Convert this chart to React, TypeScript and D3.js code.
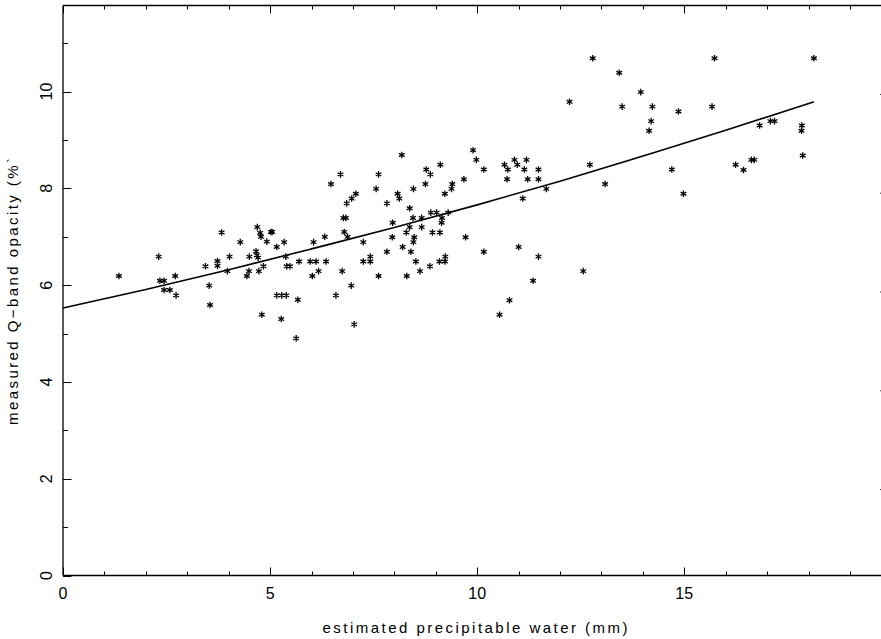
import React from "react";
import * as d3 from "d3";

// measured points: estimated precipitable water (mm) vs measured Q-band opacity (%)
const pwv: number[] = [
  1.35, 2.31, 2.34, 2.44, 2.71, 2.44, 2.58, 2.73, 3.44, 3.53, 3.55, 3.73, 3.73, 3.83, 4.02, 3.97,
  4.28, 4.44, 4.49, 4.5, 4.69, 4.76, 4.78, 4.66, 4.68, 4.71, 5.02, 5.05, 4.92, 5.16, 5.34, 4.73,
  4.84, 4.8, 5.27, 5.38, 5.4, 5.48, 5.16, 5.28, 5.39, 5.67, 5.63, 5.7,
  6.05, 6.32, 5.97, 6.11, 6.35, 6.02, 6.17, 6.47, 6.7, 6.74, 6.59, 6.96, 7.03, 6.85, 6.97, 7.07,
  6.77, 6.83, 6.79, 6.87, 7.25, 7.25, 7.42, 7.42, 7.62, 7.62, 7.56, 7.82, 8.08, 8.12, 8.18, 7.96,
  7.95, 7.82, 8.2, 8.3, 8.4, 8.46, 8.37, 8.45, 8.29, 8.37, 8.48, 8.46, 8.52, 8.62, 8.66, 8.66,
  8.75, 8.77, 8.87, 8.88, 9.02, 8.92, 9.1, 8.86, 9.09, 9.22, 9.23, 9.15, 9.14, 9.11, 9.22, 9.3,
  9.4, 9.38, 9.68, 9.72, 9.9, 9.98,
  10.16, 10.16, 10.66, 10.74, 10.9, 10.97, 11.14, 11.19, 10.72, 11.22, 11.48, 11.48, 11.1, 11.67,
  11.0, 11.48, 11.35, 10.78, 10.54, 12.56, 12.23, 12.72, 13.09, 13.5, 13.95, 14.23, 14.2, 14.15,
  14.86, 14.7, 14.98,
  12.79, 13.43, 15.73, 18.13, 15.67, 16.82, 17.08, 17.18, 17.84, 17.83,
  17.86, 16.24, 16.43, 16.62, 16.69,
];
const opacity: number[] = [
  6.19, 6.59, 6.09, 6.09, 6.19, 5.9, 5.9, 5.79, 6.39, 5.99, 5.59, 6.5, 6.4, 7.09, 6.59, 6.29,
  6.89, 6.19, 6.29, 6.59, 7.2, 7.08, 7.0, 6.7, 6.62, 6.57, 7.1, 7.1, 6.9, 6.79, 6.89, 6.29,
  6.39, 5.39, 5.3, 6.59, 6.39, 6.39, 5.79, 5.79, 5.79, 5.7, 4.9, 6.49,
  6.89, 7.0, 6.49, 6.49, 6.49, 6.19, 6.29, 8.09, 8.29, 6.29, 5.79, 5.99, 5.19, 7.69, 7.79, 7.89,
  7.39, 7.39, 7.1, 7.0, 6.89, 6.49, 6.49, 6.59, 6.19, 8.29, 7.99, 7.69, 7.89, 7.79, 8.69, 7.29,
  6.99, 6.69, 6.79, 6.19, 6.69, 7.99, 7.59, 7.39, 7.09, 7.2, 6.99, 6.89, 6.49, 6.29, 7.39, 7.2,
  8.09, 8.39, 8.29, 7.5, 7.5, 7.09, 7.09, 6.39, 6.49, 6.49, 6.59, 7.39, 7.29, 8.49, 7.89, 7.5,
  8.09, 7.99, 8.19, 6.99, 8.79, 8.59,
  8.39, 6.69, 8.49, 8.39, 8.59, 8.49, 8.39, 8.59, 8.19, 8.19, 8.19, 8.39, 7.79, 7.99,
  6.79, 6.59, 6.09, 5.69, 5.39, 6.29, 9.79, 8.49, 8.09, 9.69, 9.99, 9.69, 9.39, 9.19,
  9.59, 8.39, 7.89,
  10.69, 10.39, 10.69, 10.69, 9.69, 9.3, 9.39, 9.39, 9.3, 9.19,
  8.68, 8.49, 8.38, 8.59, 8.59,
];

// fitted curve
const fitX: number[] = [0, 2, 4, 6, 8, 10, 12, 14, 16, 18.13];
const fitY: number[] = [5.53, 5.91, 6.32, 6.75, 7.19, 7.66, 8.15, 8.67, 9.2, 9.79];

const xTickLabels: number[] = [0, 5, 10, 15];
const yTickLabels: number[] = [0, 2, 4, 6, 8, 10];
const rightTicks: number[] = [1, 2, 3, 4, 5];

const xLabel = "estimated precipitable water (mm)";
const yLabel = "measured Q\u2212band opacity (%`";

export default function App() {
  const W = 881, H = 639;
  const left = 63, right = 881, top = 5.5, bottom = 575.5;
  const x = d3.scaleLinear().domain([0, 19.75]).range([left, right]);
  const y = d3.scaleLinear().domain([0, 11.78]).range([bottom, top]);
  const yR = d3.scaleLinear().domain([0, 6]).range([588.4, -4.4]);

  const xMinor = d3.range(0, 20, 1);
  const yMinor = d3.range(0, 12, 1);

  const line = d3
    .line<number>()
    .x((_, i) => x(fitX[i]))
    .y((d) => y(d))
    .curve(d3.curveMonotoneX);

  const r = 3.3;
  const c = r * Math.cos(Math.PI / 6);
  const s = r * Math.sin(Math.PI / 6);
  const star = `M0,${-r}L0,${r}M${-c},${-s}L${c},${s}M${-c},${s}L${c},${-s}`;

  const font = "'Liberation Sans', Arial, sans-serif";

  return (
    <svg
      width={W}
      height={H}
      style={{ position: "absolute", left: 0, top: 0, background: "#fff" }}
      fontFamily={font}
    >
      <rect x={0} y={0} width={W} height={H} fill="#fff" />
      {/* frame */}
      <g stroke="#000" strokeWidth={1.3} fill="none">
        <line x1={left} y1={top} x2={right} y2={top} />
        <line x1={left} y1={top} x2={left} y2={bottom} />
        <line x1={left} y1={bottom} x2={right} y2={bottom} />
      </g>
      {/* ticks */}
      <g stroke="#000" strokeWidth={1}>
        {xMinor.map((v) => {
          const major = v % 5 === 0;
          const len = major ? 8 : 4;
          const px = Math.round(x(v)) + 0.5;
          return (
            <g key={"xt" + v}>
              <line x1={px} y1={bottom} x2={px} y2={bottom - len} />
              <line x1={px} y1={top} x2={px} y2={top + len} />
            </g>
          );
        })}
        {yMinor.map((v) => {
          const major = v % 2 === 0;
          const len = major ? 8.5 : 5;
          const py = Math.round(y(v)) + 0.5;
          return <line key={"yt" + v} x1={left} y1={py} x2={left + len} y2={py} />;
        })}
        {rightTicks.map((v) => (
          <line key={"rt" + v} x1={880} y1={yR(v)} x2={882} y2={yR(v)} strokeWidth={0.8} />
        ))}
      </g>
      {/* tick labels */}
      <g fontSize={16} fill="#000">
        {xTickLabels.map((v) => (
          <text key={"xl" + v} x={x(v)} y={599} textAnchor="middle">
            {v}
          </text>
        ))}
        {yTickLabels.map((v) => (
          <text
            key={"yl" + v}
            transform={`translate(52,${y(v)}) rotate(-90)`}
            textAnchor="middle"
          >
            {v}
          </text>
        ))}
      </g>
      {/* axis titles */}
      <text
        x={475}
        y={633}
        fontSize={15}
        textAnchor="middle"
        textLength={305}
        lengthAdjust="spacing"
      >
        {xLabel}
      </text>
      <text
        transform="translate(18,291.5) rotate(-90)"
        fontSize={15}
        textAnchor="middle"
        textLength={267}
        lengthAdjust="spacing"
      >
        {yLabel}
      </text>
      {/* fit curve */}
      <path d={line(fitY) || ""} fill="none" stroke="#000" strokeWidth={1.6} />
      {/* points */}
      <g stroke="#000" strokeWidth={1.3} fill="none">
        {pwv.map((v, i) => (
          <path
            key={"p" + i}
            d={star}
            transform={`translate(${x(v)},${y(opacity[i])})`}
          />
        ))}
      </g>
    </svg>
  );
}
